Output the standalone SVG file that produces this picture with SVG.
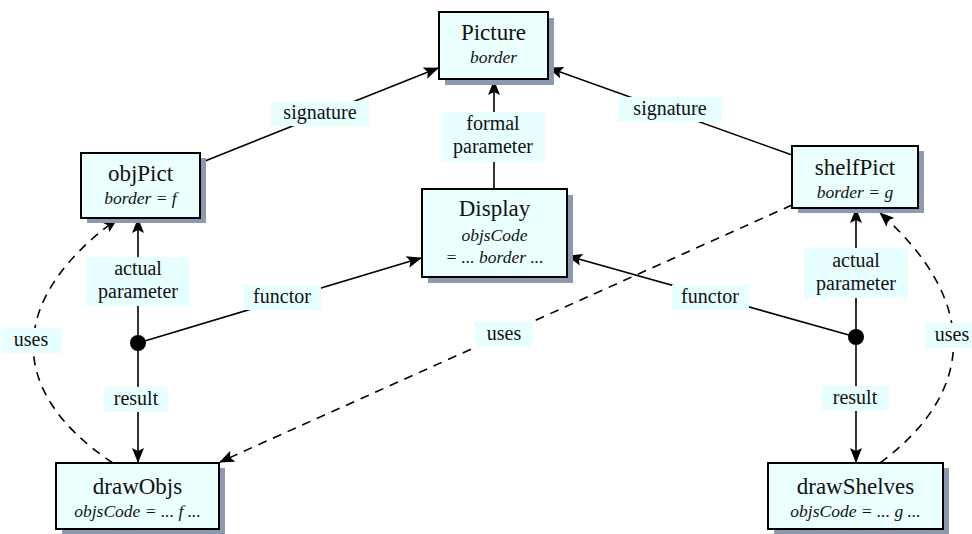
<svg xmlns="http://www.w3.org/2000/svg" width="972" height="534" viewBox="0 0 972 534" font-family="Liberation Serif, serif">
  <style>
    .box { fill: #ebffff; stroke: #000; stroke-width: 2; }
    .shadow { fill: #8d99b0; }
    text { fill: #111; text-anchor: middle; }
    .name { font-size: 23px; }
    .attr { font-size: 17.5px; font-style: italic; }
    .lbl-bg { fill: #e8ffff; }
    .lbl { font-size: 20px; }
    .edge { fill: none; stroke: #000; stroke-width: 1.6; }
    .dash { stroke-dasharray: 9 7; }
  </style>
  <defs>
    <marker id="arrow" markerUnits="userSpaceOnUse" markerWidth="15" markerHeight="12" viewBox="0 0 15 12" refX="14" refY="6" orient="auto">
      <path d="M0,0 L15,6 L0,12 L3,6 Z" fill="#000"/>
    </marker>
  </defs>

  <rect width="972" height="534" fill="#fff"/>

  <!-- connectors -->
  <g id="connectors">
    <line class="edge" x1="200" y1="163" x2="438" y2="68" marker-end="url(#arrow)"/>
    <line class="edge" x1="792" y1="155" x2="549" y2="68" marker-end="url(#arrow)"/>
    <line class="edge" x1="494" y1="189" x2="494" y2="81" marker-end="url(#arrow)"/>
    <line class="edge" x1="138" y1="343" x2="138" y2="219" marker-end="url(#arrow)"/>
    <line class="edge" x1="138" y1="343" x2="421" y2="258" marker-end="url(#arrow)"/>
    <line class="edge" x1="138" y1="343" x2="138" y2="462" marker-end="url(#arrow)"/>
    <line class="edge" x1="856" y1="337" x2="856" y2="209" marker-end="url(#arrow)"/>
    <line class="edge" x1="856" y1="337" x2="568" y2="256" marker-end="url(#arrow)"/>
    <line class="edge" x1="856" y1="337" x2="856" y2="462" marker-end="url(#arrow)"/>
    <path class="edge dash" d="M113,463 C6,392 6,300 117,219" marker-end="url(#arrow)"/>
    <path class="edge dash" d="M792,205 L220,462" marker-end="url(#arrow)"/>
    <path class="edge dash" d="M880,463 C978,390 978,300 880,213" marker-end="url(#arrow)"/>
    <circle cx="138" cy="343" r="8" fill="#000"/>
    <circle cx="856" cy="337" r="8" fill="#000"/>
  </g>

  <!-- connector labels -->
  <g id="labels">
    <rect class="lbl-bg" x="271" y="101" width="98" height="25"/>
    <text class="lbl" x="320" y="119">signature</text>
    <rect class="lbl-bg" x="618" y="97" width="104" height="25"/>
    <text class="lbl" x="670" y="115">signature</text>
    <rect class="lbl-bg" x="441" y="112" width="104" height="50"/>
    <text class="lbl" x="493" y="130">formal</text>
    <text class="lbl" x="493" y="153">parameter</text>
    <rect class="lbl-bg" x="86" y="257" width="104" height="49"/>
    <text class="lbl" x="138" y="275">actual</text>
    <text class="lbl" x="138" y="298">parameter</text>
    <rect class="lbl-bg" x="104" y="387" width="64" height="25"/>
    <text class="lbl" x="136" y="405">result</text>
    <rect class="lbl-bg" x="244" y="285" width="77" height="25"/>
    <text class="lbl" x="282" y="303">functor</text>
    <rect class="lbl-bg" x="672" y="285" width="77" height="25"/>
    <text class="lbl" x="710" y="303">functor</text>
    <rect class="lbl-bg" x="804" y="248" width="104" height="50"/>
    <text class="lbl" x="856" y="267">actual</text>
    <text class="lbl" x="856" y="290">parameter</text>
    <rect class="lbl-bg" x="822" y="386" width="67" height="25"/>
    <text class="lbl" x="855" y="404">result</text>
    <rect class="lbl-bg" x="1" y="328" width="61" height="25"/>
    <text class="lbl" x="31" y="346">uses</text>
    <rect class="lbl-bg" x="475" y="322" width="58" height="25"/>
    <text class="lbl" x="504" y="340">uses</text>
    <rect class="lbl-bg" x="925" y="323" width="47" height="25"/>
    <text class="lbl" x="952" y="341">uses</text>
  </g>

  <!-- nodes -->
  <g id="picture">
    <rect class="shadow" x="445" y="18" width="109" height="67"/>
    <rect class="box" x="439" y="12" width="109" height="67"/>
    <text class="name" x="493.5" y="40">Picture</text>
    <text class="attr" x="493.5" y="63">border</text>
  </g>
  <g id="objPict">
    <rect class="shadow" x="87" y="158" width="119" height="65"/>
    <rect class="box" x="81" y="153" width="119" height="65"/>
    <text class="name" x="140.5" y="181">objPict</text>
    <text class="attr" x="140.5" y="204">border = f</text>
  </g>
  <g id="display">
    <rect class="shadow" x="428" y="195" width="145" height="88"/>
    <rect class="box" x="422" y="189" width="145" height="88"/>
    <text class="name" x="494.5" y="216">Display</text>
    <text class="attr" x="494.5" y="241">objsCode</text>
    <text class="attr" x="494.5" y="263">= ... border ...</text>
  </g>
  <g id="shelfPict">
    <rect class="shadow" x="798" y="151" width="126" height="62"/>
    <rect class="box" x="792" y="146" width="126" height="62"/>
    <text class="name" x="855" y="175">shelfPict</text>
    <text class="attr" x="855" y="198">border = g</text>
  </g>
  <g id="drawObjs">
    <rect class="shadow" x="62" y="468" width="163" height="66"/>
    <rect class="box" x="56" y="463" width="163" height="66"/>
    <text class="name" x="137.5" y="494">drawObjs</text>
    <text class="attr" x="137.5" y="517">objsCode = ... f ...</text>
  </g>
  <g id="drawShelves">
    <rect class="shadow" x="774" y="468" width="175" height="66"/>
    <rect class="box" x="768" y="463" width="175" height="66"/>
    <text class="name" x="855.5" y="494">drawShelves</text>
    <text class="attr" x="855.5" y="517">objsCode = ... g ...</text>
  </g>
</svg>
